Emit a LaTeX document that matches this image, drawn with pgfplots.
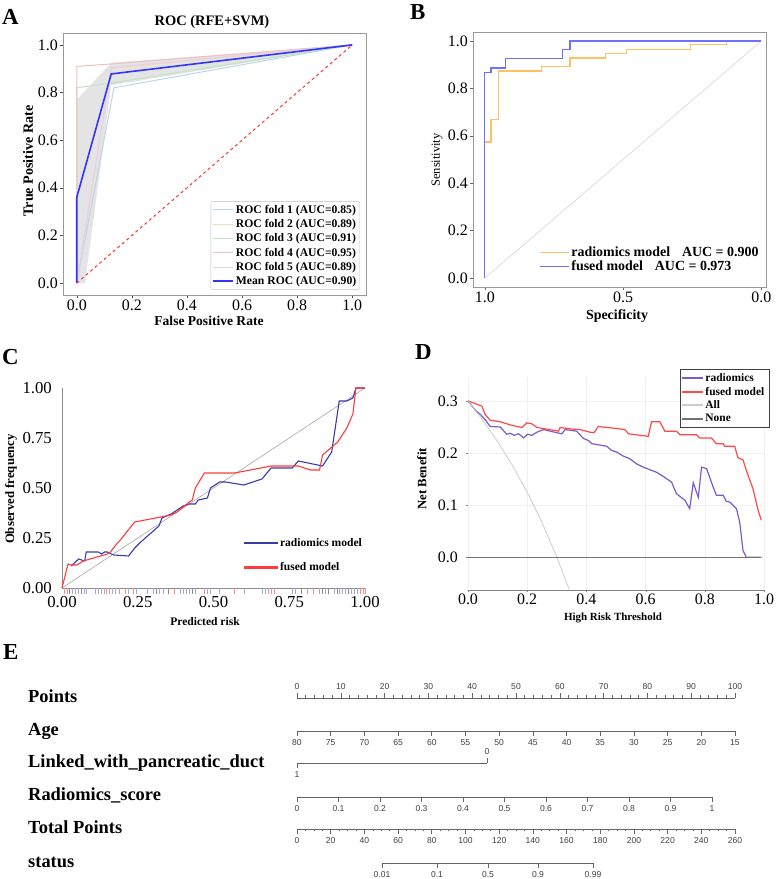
\documentclass[border=0pt]{standalone}
\usepackage{fontspec}
\setmainfont{Liberation Serif}
\setsansfont{Liberation Sans}
\usepackage{pgfplots}
\pgfplotsset{compat=1.18}

\definecolor{fold1}{HTML}{BCD6E8}
\definecolor{fold2}{HTML}{FFD9B7}
\definecolor{fold3}{HTML}{C0E3C0}
\definecolor{fold4}{HTML}{F3BEBF}
\definecolor{fold5}{HTML}{DFD1EB}
\definecolor{meanblue}{HTML}{3333FF}
\definecolor{diagred}{HTML}{FF3333}
\definecolor{bandgray}{HTML}{E4E4E4}
\definecolor{rocorange}{HTML}{FFC060}
\definecolor{rocblue}{HTML}{7070FF}
\definecolor{calblue}{HTML}{3A3AA8}
\definecolor{calred}{HTML}{FF3B3B}
\definecolor{dcapurple}{HTML}{7B5BC8}
\definecolor{dcared}{HTML}{FF4848}

\pgfplotsset{
  panel/.style={
    scale only axis, anchor=south west,
    /pgf/number format/assume math mode=true,
    tick align=outside, major tick length=3.5bp,
    xtick pos=bottom, ytick pos=left,
    tick label style={font=\fontsize{16}{16}\selectfont, inner sep=1.5bp},
    legend cell align=left,
  },
  onedig/.style={
    xticklabel style={/pgf/number format/.cd, fixed, fixed zerofill, precision=1},
    yticklabel style={/pgf/number format/.cd, fixed, fixed zerofill, precision=1},
  },
  nomo/.style={
    scale only axis, height=20bp, hide y axis, ymin=0, ymax=1,
    /pgf/number format/assume math mode=true,
    axis line style={black!60, -, line width=0.6bp},
    tick style={black!60, line width=0.6bp},
    tick align=outside, major tick length=5bp, minor tick length=2.5bp,
    tick label style={font=\sffamily\fontsize{8.6}{9}\selectfont, text=black!75},
  },
}

\begin{document}
\begin{tikzpicture}
\useasboundingbox (0,0) rectangle (777bp,879bp);

% ---------------- A: ROC (RFE+SVM)
\begin{axis}[panel, onedig,
  at={(63bp,584bp)}, width=303bp, height=262bp,
  xmin=-0.05, xmax=1.05, ymin=-0.05, ymax=1.05,
  xtick={0,0.2,0.4,0.6,0.8,1.0}, ytick={0,0.2,0.4,0.6,0.8,1.0},
  axis line style={black!40, line width=0.8bp}, tick style={black!70},
  legend style={at={(0.98,0.02)}, anchor=south east, draw=black!25,
    rounded corners=2bp, font=\bfseries\fontsize{11.7}{12.5}\selectfont,
    inner sep=1.5bp, row sep=0.6bp},
  legend image code/.code={\draw[#1] (0bp,0bp) -- (20bp,0bp);},
]
\addplot[fill=bandgray, draw=none, forget plot] coordinates {
  (0,0) (0,0.77) (0.125,0.925) (1,1) (0.125,0.83) (0.03,0) } -- cycle;
\addplot[fold1, line width=1bp] coordinates {(0,0) (0.135,0.82) (1,1)};
\addplot[fold2, line width=1bp] coordinates {(0,0) (0.125,0.90) (1,1)};
\addplot[fold3, line width=1bp] coordinates {(0,0) (0,0.82) (0.125,0.84) (1,1)};
\addplot[fold4, line width=1bp] coordinates {(0,0) (0,0.91) (0.125,0.92) (1,1)};
\addplot[fold5, line width=1bp] coordinates {(0,0) (0.125,0.905) (1,1)};
\addplot[meanblue, line width=1.6bp] coordinates {(0,0) (0,0.36) (0.125,0.878) (1,1)};
\addplot[diagred, dashed, line width=1bp, forget plot] coordinates {(0,0) (1,1)};
\legend{ROC fold 1 (AUC=0.85), ROC fold 2 (AUC=0.89), ROC fold 3 (AUC=0.91),
  ROC fold 4 (AUC=0.95), ROC fold 5 (AUC=0.89), Mean ROC (AUC=0.90)}
\end{axis}

% ---------------- B: ROC comparison
\begin{axis}[panel, onedig,
  at={(473bp,592bp)}, width=293bp, height=255bp,
  x dir=reverse, xmin=-0.017, xmax=1.043, ymin=-0.038, ymax=1.038,
  xtick={0,0.5,1}, ytick={0,0.2,0.4,0.6,0.8,1.0},
  axis line style={black!40, line width=0.8bp}, tick style={black!60},
  legend style={at={(0.215,0.175)}, anchor=north west, draw=none, fill=none,
    font=\bfseries\fontsize{14}{15}\selectfont, row sep=-1bp},
  legend image code/.code={\draw[#1] (0bp,0bp) -- (29bp,0bp);},
]
\addplot[black!15, line width=0.7bp, forget plot] coordinates {(1,0) (0,1)};
\addplot[rocorange, line width=1.2bp] coordinates {
  (1,0) (1,0.574) (0.978,0.574) (0.978,0.669) (0.950,0.669) (0.950,0.873)
  (0.795,0.873) (0.795,0.893) (0.692,0.893) (0.692,0.928) (0.565,0.928)
  (0.565,0.947) (0.489,0.947) (0.489,0.965) (0.255,0.965) (0.255,0.985)
  (0.127,0.985) (0.127,1) (0,1)};
\addplot[rocblue, line width=1.2bp] coordinates {
  (1,0) (1,0.866) (0.978,0.866) (0.978,0.886) (0.925,0.886) (0.925,0.925)
  (0.719,0.925) (0.719,0.963) (0.692,0.963) (0.692,1) (0,1)};
\legend{radiomics model\hspace{0.85em}AUC = 0.900, fused model\hspace{0.85em}AUC = 0.973}
\end{axis}

% ---------------- C: calibration
\begin{axis}[panel,
  at={(62bp,291bp)}, width=303bp, height=200bp,
  xmin=0, xmax=1, ymin=0, ymax=1, clip=false,
  axis x line*=bottom, axis y line*=left,
  axis line style={black!45, -, line width=0.7bp},
  major tick length=0bp,
  xtick={0,0.25,0.5,0.75,1}, ytick={0,0.25,0.5,0.75,1},
  tick label style={font=\fontsize{16.8}{17}\selectfont, inner sep=4bp},
  xticklabel style={/tikz/yshift=-4.5bp, /pgf/number format/.cd, fixed, fixed zerofill, precision=2},
  yticklabel style={/tikz/xshift=-6bp, /pgf/number format/.cd, fixed, fixed zerofill, precision=2},
  legend style={at={(0.59,0.27)}, anchor=north west, draw=none, fill=none,
    font=\bfseries\fontsize{11.6}{12}\selectfont, row sep=11bp},
  legend image code/.code={\fill[#1] (0bp,-0.5bp) rectangle (33bp,0.5bp);},
]
\addplot[black!35, line width=0.6bp, forget plot] coordinates {(0,0) (1,1)};
\addplot[ycomb, no marks, color=black!45, line width=0.6bp, forget plot] coordinates {
  (0.025,-0.03) (0.065,-0.03) (0.31,-0.03) (0.35,-0.03) (0.43,-0.03) (0.79,-0.03)
  (0.85,-0.03) (0.86,-0.03) (0.88,-0.03) (0.91,-0.03) (0.945,-0.03)};
\addplot[ycomb, no marks, color=calblue!45, line width=0.6bp, forget plot] coordinates {
  (0.035,-0.03) (0.045,-0.03) (0.055,-0.03) (0.075,-0.03) (0.08,-0.03)
  (0.11,-0.03) (0.12,-0.03) (0.13,-0.03) (0.14,-0.03) (0.165,-0.03) (0.175,-0.03)
  (0.22,-0.03) (0.245,-0.03) (0.28,-0.03) (0.30,-0.03) (0.32,-0.03) (0.335,-0.03)
  (0.39,-0.03) (0.40,-0.03) (0.41,-0.03) (0.42,-0.03) (0.44,-0.03)
  (0.48,-0.03) (0.49,-0.03) (0.52,-0.03) (0.60,-0.03) (0.66,-0.03) (0.67,-0.03)
  (0.68,-0.03) (0.76,-0.03) (0.77,-0.03) (0.81,-0.03) (0.87,-0.03) (0.90,-0.03)
  (0.915,-0.03) (0.925,-0.03) (0.935,-0.03) (0.955,-0.03) (0.965,-0.03) (0.975,-0.03)};
\addplot[ycomb, no marks, color=calred!60, line width=0.6bp, forget plot] coordinates {
  (0.008,-0.03) (0.016,-0.03) (0.145,-0.03) (0.155,-0.03) (0.19,-0.03)
  (0.21,-0.03) (0.235,-0.03) (0.37,-0.03) (0.47,-0.03) (0.57,-0.03) (0.69,-0.03)
  (0.70,-0.03) (0.83,-0.03) (0.85,-0.03) (0.985,-0.03) (0.995,-0.03) (1.0,-0.03)};
\addplot[color=calblue, line width=1.1bp] coordinates {
  (0.03,0.11) (0.055,0.145) (0.075,0.135) (0.08,0.18) (0.12,0.18) (0.13,0.17)
  (0.14,0.18) (0.15,0.18) (0.17,0.165) (0.22,0.16) (0.24,0.20) (0.26,0.23)
  (0.29,0.27) (0.32,0.31) (0.33,0.35) (0.36,0.37) (0.40,0.41) (0.42,0.42)
  (0.44,0.42) (0.45,0.44) (0.48,0.45) (0.49,0.50) (0.52,0.53) (0.54,0.53)
  (0.60,0.515) (0.66,0.545) (0.69,0.60) (0.76,0.60) (0.78,0.635) (0.86,0.61)
  (0.89,0.68) (0.915,0.935) (0.94,0.935) (0.96,0.95) (0.97,1.0) (1.0,1.0)};
\addlegendentry{radiomics model}
\addplot[color=calred, line width=1.1bp] coordinates {
  (0,0) (0.02,0.12) (0.03,0.115) (0.05,0.115) (0.07,0.135) (0.15,0.17)
  (0.16,0.18) (0.18,0.22) (0.19,0.235) (0.24,0.33) (0.36,0.365) (0.38,0.38)
  (0.42,0.43) (0.43,0.44) (0.44,0.50) (0.47,0.575) (0.57,0.575) (0.69,0.61)
  (0.78,0.61) (0.82,0.59) (0.85,0.59) (0.86,0.665) (0.91,0.73) (0.94,0.80)
  (0.96,0.87) (0.97,1.0) (1.0,1.0)};
\addlegendentry{fused model}
\end{axis}

% ---------------- D: decision curve
\begin{axis}[panel, onedig,
  at={(468bp,289bp)}, width=296bp, height=213bp,
  xmin=0, xmax=1, ymin=-0.063, ymax=0.346,
  axis x line*=bottom, axis y line*=left,
  x axis line style={black!50, -, line width=0.7bp}, y axis line style={draw=none},
  tick style={black!50}, major tick length=2.5bp,
  xtick={0,0.2,0.4,0.6,0.8,1.0}, ytick={0,0.1,0.2,0.3},
  grid=major, grid style={black!6, line width=0.5bp},
  yticklabel style={/tikz/xshift=-6bp},
  legend style={at={(1.017,1.038)}, anchor=north east, draw=black!75,
    fill=white, font=\bfseries\fontsize{11.5}{11}\selectfont,
    inner sep=2.5bp, row sep=0bp},
  legend image code/.code={\fill[#1] (0bp,-0.45bp) rectangle (20bp,0.45bp);},
]
\addplot[color=dcapurple, line width=1.2bp] coordinates {
  (0,0.300) (0.025,0.282) (0.042,0.274) (0.058,0.264) (0.075,0.251) (0.109,0.250)
  (0.131,0.236) (0.143,0.238) (0.156,0.234) (0.171,0.237) (0.188,0.229) (0.201,0.236)
  (0.216,0.234) (0.233,0.240) (0.255,0.245) (0.300,0.239) (0.317,0.237) (0.328,0.245)
  (0.367,0.242) (0.390,0.228) (0.407,0.224) (0.418,0.218) (0.469,0.213) (0.485,0.205)
  (0.502,0.202) (0.525,0.194) (0.547,0.189) (0.570,0.179) (0.592,0.173) (0.637,0.163)
  (0.660,0.155) (0.688,0.144) (0.704,0.122) (0.733,0.109) (0.749,0.093) (0.761,0.143)
  (0.778,0.115) (0.789,0.173) (0.806,0.170) (0.828,0.135) (0.839,0.119) (0.862,0.119)
  (0.873,0.107) (0.884,0.106) (0.907,0.093) (0.918,0.067) (0.929,0.013) (0.940,0.000)
  (0.991,0.000)};
\addlegendentry{radiomics}
\addplot[color=dcared, line width=1.2bp] coordinates {
  (0,0.300) (0.047,0.290) (0.058,0.274) (0.075,0.263) (0.109,0.260) (0.143,0.254)
  (0.165,0.251) (0.182,0.249) (0.199,0.258) (0.216,0.256) (0.233,0.249) (0.266,0.246)
  (0.306,0.242) (0.311,0.249) (0.351,0.246) (0.379,0.245) (0.412,0.240) (0.426,0.239)
  (0.440,0.251) (0.502,0.247) (0.530,0.245) (0.542,0.237) (0.609,0.232) (0.620,0.260)
  (0.648,0.260) (0.665,0.242) (0.704,0.242) (0.716,0.235) (0.772,0.235) (0.783,0.229)
  (0.822,0.229) (0.839,0.218) (0.862,0.218) (0.867,0.213) (0.901,0.213) (0.912,0.191)
  (0.929,0.187) (0.940,0.167) (0.963,0.131) (0.980,0.090) (0.991,0.071)};
\addlegendentry{fused model}
\addplot[color=black!20, line width=0.8bp] coordinates {
  (0,0.300) (0.05,0.263) (0.10,0.222) (0.15,0.176) (0.20,0.125) (0.25,0.067)
  (0.30,0.000) (0.342,-0.062)};
\addlegendentry{All}
\addplot[color=black!55, line width=0.8bp] coordinates {(0,0) (0.99,0)};
\addlegendentry{None}
\end{axis}

% ---------------- E: nomogram scales
\begin{axis}[nomo, at={(297bp,181bp)}, anchor=north west, width=438bp,
  axis x line*=top, xmin=0, xmax=100, xtick={0,10,...,100}, minor tick num=4]
\end{axis}
\begin{axis}[nomo, at={(297bp,148bp)}, anchor=south west, width=438bp,
  axis x line*=bottom, x dir=reverse, xmin=15, xmax=80,
  xtick={15,20,25,30,35,40,45,50,55,60,65,70,75,80}]
\end{axis}
\begin{axis}[nomo, at={(297bp,116bp)}, anchor=south west, width=190bp,
  axis x line*=bottom, x dir=reverse, xmin=0, xmax=1, xtick={1}]
\end{axis}
\begin{axis}[nomo, at={(297bp,116bp)}, anchor=north west, width=190bp,
  axis x line*=top, x dir=reverse, xmin=0, xmax=1, xtick={0}]
\end{axis}
\begin{axis}[nomo, at={(297bp,82bp)}, anchor=south west, width=415bp,
  axis x line*=bottom, xmin=0, xmax=1,
  xtick={0,0.1,0.2,0.3,0.4,0.5,0.6,0.7,0.8,0.9,1}]
\end{axis}
\begin{axis}[nomo, at={(297bp,50bp)}, anchor=south west, width=438bp,
  axis x line*=bottom, xmin=0, xmax=260, xtick={0,20,...,260}, minor tick num=3]
\end{axis}
\begin{axis}[nomo, at={(382bp,16bp)}, anchor=south west, width=211bp,
  axis x line*=bottom, xmin=382, xmax=593, xtick={382,437,488,538,593},
  xticklabels={0.01,0.1,0.5,0.9,0.99}]
\end{axis}

% ---------------- panel letters and labels
\begin{scope}[every node/.style={inner sep=0pt}]
\node[font=\bfseries\fontsize{23}{23}\selectfont, anchor=base west] at (2bp,854bp) {A};
\node[font=\bfseries\fontsize{23}{23}\selectfont, anchor=base west] at (410bp,859bp) {B};
\node[font=\bfseries\fontsize{23}{23}\selectfont, anchor=base west] at (2bp,514bp) {C};
\node[font=\bfseries\fontsize{23}{23}\selectfont, anchor=base west] at (415bp,519bp) {D};
\node[font=\bfseries\fontsize{23}{23}\selectfont, anchor=base west] at (3bp,219bp) {E};

\node[font=\bfseries\fontsize{14.5}{15}\selectfont] at (212bp,857bp) {ROC (RFE+SVM)};
\node[font=\bfseries\fontsize{14.2}{15}\selectfont, rotate=90] at (28bp,718bp) {True Positive Rate};
\node[font=\bfseries\fontsize{13.6}{14}\selectfont] at (209bp,558bp) {False Positive Rate};
\node[font=\fontsize{12.5}{13}\selectfont, rotate=90] at (437bp,719bp) {Sensitivity};
\node[font=\bfseries\fontsize{14}{14}\selectfont] at (617bp,563bp) {Specificity};
\node[font=\bfseries\fontsize{12.8}{13}\selectfont, rotate=90] at (11bp,390bp) {Observed frequency};
\node[font=\bfseries\fontsize{11.6}{12}\selectfont] at (205bp,257bp) {Predicted risk};
\node[font=\bfseries\fontsize{12.9}{13}\selectfont, rotate=90] at (422bp,400bp) {Net Benefit};
\node[font=\bfseries\fontsize{11}{11}\selectfont] at (613bp,261bp) {High Risk Threshold};

\node[font=\bfseries\fontsize{18.5}{19}\selectfont, anchor=base west] at (28bp,176.5bp) {Points};
\node[font=\bfseries\fontsize{18.5}{19}\selectfont, anchor=base west] at (28bp,143.5bp) {Age};
\node[font=\bfseries\fontsize{18.5}{19}\selectfont, anchor=base west] at (28bp,111bp) {Linked\_with\_pancreatic\_duct};
\node[font=\bfseries\fontsize{18.5}{19}\selectfont, anchor=base west] at (28bp,78bp) {Radiomics\_score};
\node[font=\bfseries\fontsize{18.5}{19}\selectfont, anchor=base west] at (28bp,45bp) {Total Points};
\node[font=\bfseries\fontsize{18.5}{19}\selectfont, anchor=base west] at (28bp,12bp) {status};
\end{scope}
\end{tikzpicture}
\end{document}
